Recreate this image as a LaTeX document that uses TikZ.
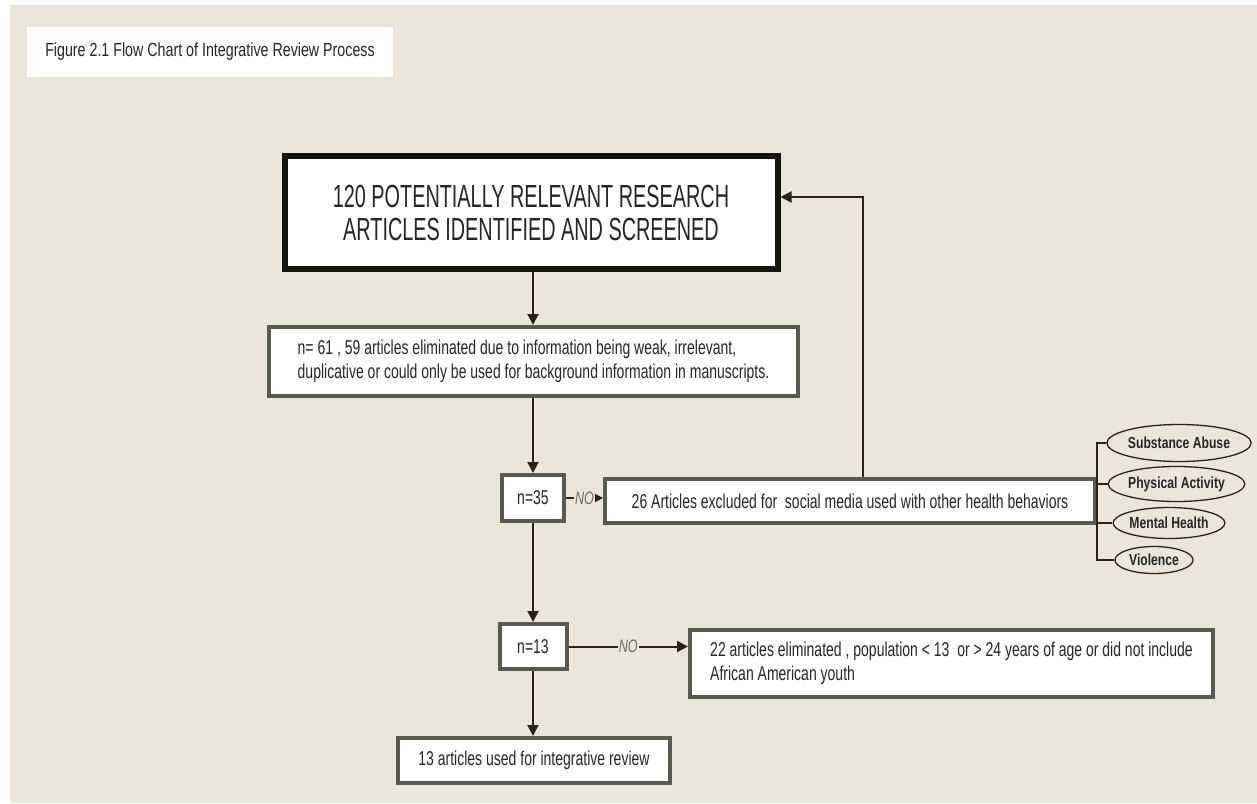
\documentclass[tikz,border=0pt]{standalone}
\usepackage{fontspec}
\usetikzlibrary{arrows.meta,shapes.geometric}
\setmainfont{Liberation Sans}
\newfontfamily\titlefont[FakeStretch=0.75]{Liberation Sans}
\newfontfamily\capfont[FakeStretch=0.62]{Liberation Sans}
\newfontfamily\bodyfont[FakeStretch=0.70]{Liberation Sans}
\newfontfamily\ovalfont[FakeStretch=0.76]{Liberation Sans}
\definecolor{paper}{HTML}{EAE7DA}
\definecolor{frame}{HTML}{585A50}
\definecolor{heavy}{HTML}{15150F}
\definecolor{ink}{HTML}{262624}
\definecolor{wire}{HTML}{2A2417}
\definecolor{nogray}{HTML}{6E6D62}
\begin{document}
\begin{tikzpicture}[x=1pt,y=-1pt,
  box/.style={draw=frame, line width=4pt, fill=white, text=ink, inner sep=0pt,
    font=\bodyfont\fontsize{20}{24}\selectfont},
  bigbox/.style={draw=heavy, line width=6pt, fill=white, text=ink, inner sep=0pt,
    align=center, font=\capfont\fontsize{32}{33}\selectfont},
  oval/.style={ellipse, draw=wire, line width=1.3pt, inner sep=0pt, text=ink,
    font=\ovalfont\bfseries\fontsize{16}{18}\selectfont},
  arr/.style={draw=wire, line width=2pt, -{Triangle[length=11pt,width=11pt]}},
  brk/.style={draw=wire, line width=1.3pt},
  nolabel/.style={fill=paper, inner sep=1pt, text=nogray,
    font=\bodyfont\itshape\fontsize{18}{20}\selectfont}
]
\useasboundingbox (0,0) rectangle (1257,803);
\fill[white] (0,0) rectangle (1257,803);
\fill[paper] (10,5) rectangle (1257,803);

% caption
\node[fill=white, minimum width=366pt, minimum height=50pt, inner sep=0pt,
  text=ink, font=\titlefont\fontsize{19}{22}\selectfont] (title) at (210,52)
  {Figure 2.1 Flow Chart of Integrative Review Process};

% main column
\node[bigbox, minimum width=493pt, minimum height=113pt] (b1) at (531,212.5)
  {120 POTENTIALLY RELEVANT RESEARCH\\ARTICLES IDENTIFIED AND SCREENED};
\node[box, align=left, minimum width=529pt, minimum height=69pt] (b2) at (533.5,361.5)
  {n= 61 , 59 articles eliminated due to information being weak, irrelevant,\\
   duplicative or could only be used for background information in manuscripts.};
\node[box, minimum width=62pt, minimum height=46pt] (n35) at (533,498) {n=35};
\node[box, minimum width=490pt, minimum height=44pt] (b3) at (850,501)
  {26 Articles excluded for\ \ social media used with other health behaviors};
\node[box, minimum width=67pt, minimum height=45pt] (n13) at (533,646.5) {n=13};
\node[box, align=left, minimum width=523pt, minimum height=67pt] (b4) at (951.5,663.5)
  {22 articles eliminated , population < 13\ \ or > 24 years of age or did not include\\
   African American youth\phantom{ or > 24 years of age or did not include 22 art}};
\node[box, minimum width=272pt, minimum height=45pt] (b5) at (534,760.5)
  {13 articles used for integrative review};

% behaviour categories
\node[oval, minimum width=128pt, minimum height=37pt] (sa) at (1179,443) {Substance Abuse};
\node[oval, minimum width=123pt, minimum height=35pt] (pa) at (1176.5,484) {Physical Activity};
\node[oval, minimum width=108pt, minimum height=31pt] (mh) at (1169,523) {Mental Health};
\node[oval, minimum width=78pt, minimum height=27pt] (vi) at (1154,560) {Violence};

% connectors
\coordinate (fb) at (863,197);
\draw[arr] (b1.south -| n35) -- (b2.north -| n35);
\draw[arr] (b2.south -| n35) -- (n35.north);
\draw[arr] (n35.east) -- node[nolabel] {NO} (b3.west |- n35.east);
\draw[arr] (b3.north -| fb) |- (b1.east |- fb);
\draw[arr] (n35.south) -- (n13.north -| n35);
\draw[arr] (n13.east) -- node[nolabel] {NO} (b4.west |- n13.east);
\draw[arr] (n13.south -| n35) -- (b5.north -| n35);

% bracket to the categories
\draw[brk] (sa.west) -- (sa.west -| b3.east) -- (vi.west -| b3.east) -- (vi.west);
\draw[brk] (pa.west) -- (pa.west -| b3.east);
\draw[brk] (mh.west) -- (mh.west -| b3.east);
\end{tikzpicture}
\end{document}
